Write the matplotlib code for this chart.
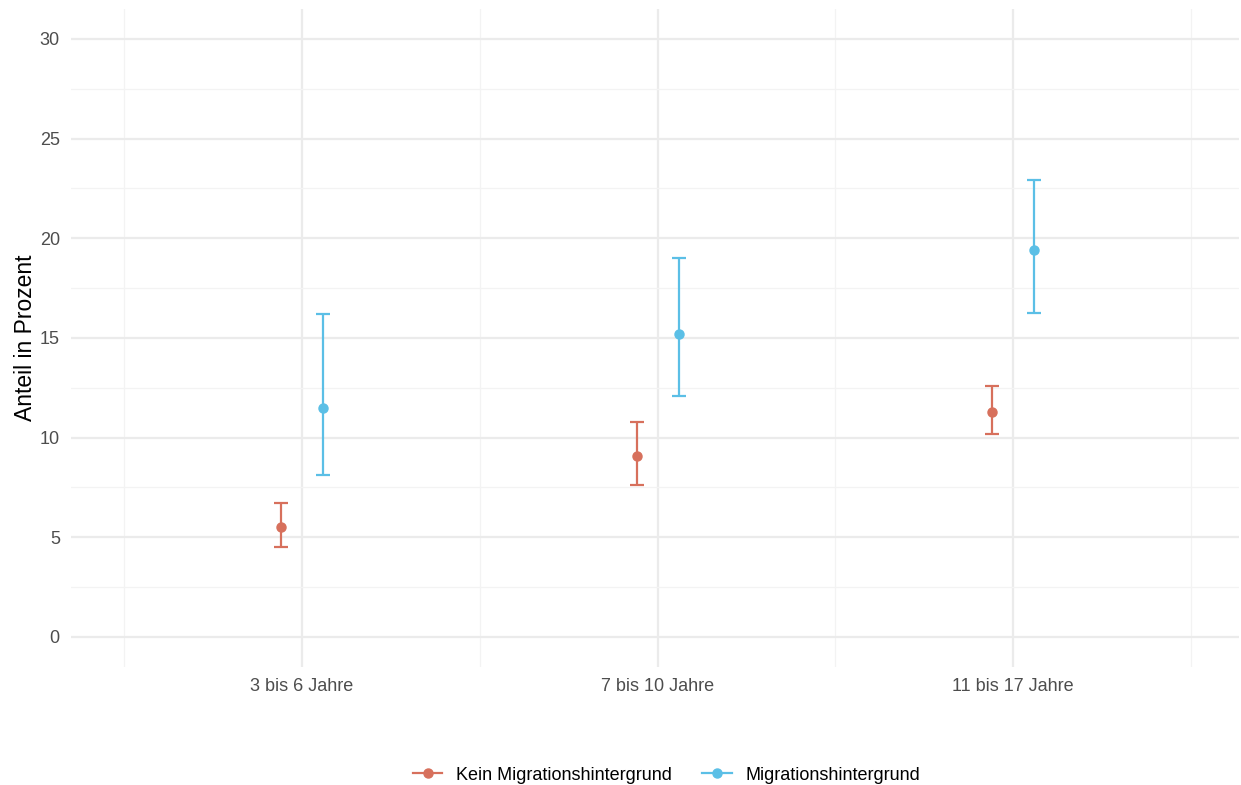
import matplotlib
matplotlib.use("Agg")
import matplotlib.pyplot as plt
import numpy as np
from matplotlib.lines import Line2D

categories = ["3 bis 6 Jahre", "7 bis 10 Jahre", "11 bis 17 Jahre"]
groups = ["Kein Migrationshintergrund", "Migrationshintergrund"]
kein_val = [5.5, 9.1, 11.3]
kein_lo = [4.5, 7.6, 10.2]
kein_hi = [6.7, 10.8, 12.6]
mig_val = [11.5, 15.2, 19.4]
mig_lo = [8.1, 12.1, 16.25]
mig_hi = [16.2, 19.0, 22.9]
colors = ["#D7705C", "#5BBFE6"]

plt.rcParams['font.family'] = ['Liberation Sans', 'DejaVu Sans']

fig = plt.figure(figsize=(12.41, 7.85), dpi=100)
ax = fig.add_axes([0.0572, 0.1505, 0.941, 0.838])

x = np.arange(1, len(categories) + 1)
offsets = [-0.059, 0.059]
series = [(kein_val, kein_lo, kein_hi), (mig_val, mig_lo, mig_hi)]
for (v, lo, hi), off, c in zip(series, offsets, colors):
    v = np.array(v); lo = np.array(lo); hi = np.array(hi)
    ax.errorbar(x + off, v, yerr=[v - lo, hi - v], fmt='o', color=c,
                ms=6.5, elinewidth=1.6, capsize=5.2, capthick=1.6, zorder=3)

ax.set_xlim(0.35, 3.635)
ax.set_ylim(-1.5, 31.5)
ax.set_yticks([0, 5, 10, 15, 20, 25, 30])
ax.set_yticks([2.5, 7.5, 12.5, 17.5, 22.5, 27.5], minor=True)
ax.set_xticks(x)
ax.set_xticklabels(categories)
ax.set_xticks([0.5, 1.5, 2.5, 3.5], minor=True)
ax.grid(which='major', color='#EBEBEB', linewidth=1.6, zorder=0)
ax.grid(which='minor', color='#F3F3F3', linewidth=0.9, zorder=0)
ax.set_axisbelow(True)
for s in ax.spines.values():
    s.set_visible(False)
ax.tick_params(which='both', length=0)
ax.tick_params(axis='y', labelsize=13, labelcolor='#4D4D4D', pad=8)
ax.tick_params(axis='x', labelsize=13, labelcolor='#4D4D4D', pad=8)
ax.set_ylabel("Anteil in Prozent", fontsize=16.5, color='black', labelpad=2)

handles = [Line2D([0], [0], color=c, marker='o', ms=6.5, lw=1.6) for c in colors]
fig.legend(handles, groups, loc='center', bbox_to_anchor=(0.537, 0.0125),
           ncol=2, frameon=False, fontsize=13.0, handlelength=1.62,
           columnspacing=1.7, handletextpad=0.75)

fig.savefig("out.png", dpi=100)
